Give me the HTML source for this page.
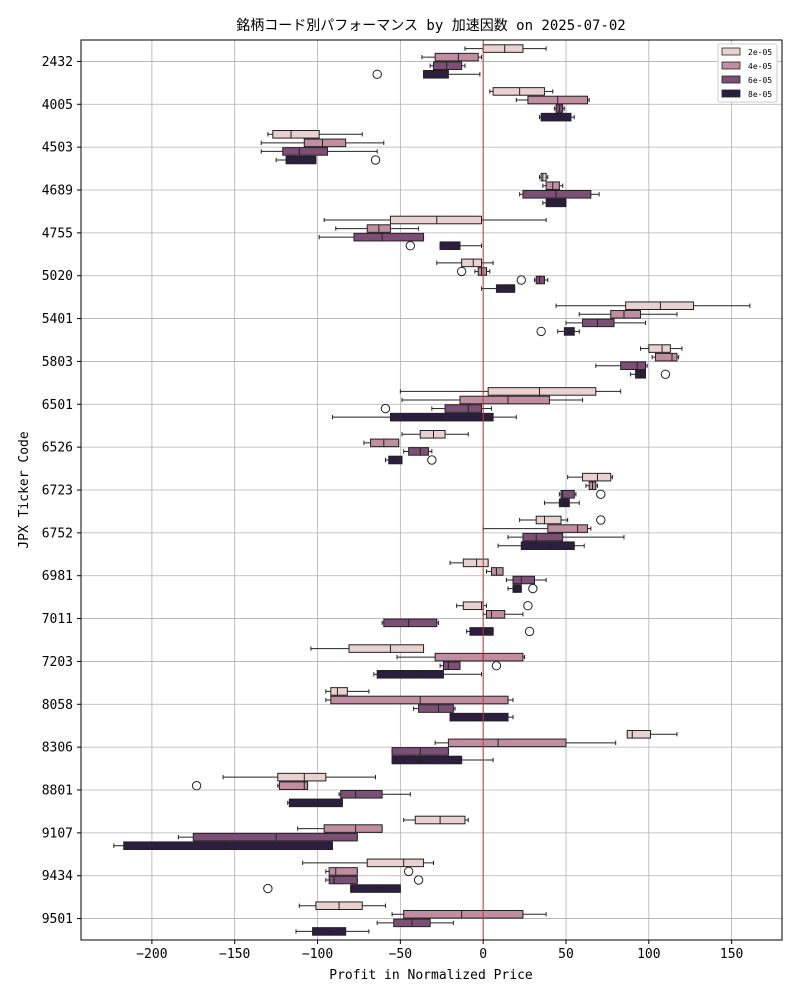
<!DOCTYPE html>
<html><head><meta charset="utf-8">
<style>
body{margin:0;background:#fff;}
svg text{font-family:"DejaVu Sans Mono","Liberation Mono","Noto Sans CJK JP",monospace;}
</style></head>
<body>
<svg id="chart" width="800" height="1000" xmlns="http://www.w3.org/2000/svg"></svg>
<script>
const categories=["2432","4005","4503","4689","4755","5020","5401","5803","6501","6526","6723","6752","6981","7011","7203","8058","8306","8801","9107","9434","9501"];
const hues=["2e-05","4e-05","6e-05","8e-05"];
const hueColors=["#e8d1cf","#c08ea0","#7d4f77","#2d1e3f"];
// each: [q1, median, q3, whiskerLow, whiskerHigh, outliers[]]
const stats2e=[[0,13,24,-11,38,[]],[6,22,37,4,42,[]],[-127,-116,-99,-130,-73,[]],[35,36,38,34,39,[]],[-56,-28,-1,-96,38,[]],[-13,-6,-1,-28,6,[]],[86,107,127,44,161,[]],[100,108,113,95,120,[]],[3,34,68,-50,83,[]],[-38,-30,-23,-49,-9,[]],[60,69,77,51,78,[]],[32,37,47,22,51,[71]],[-12,-4,3,-20,3,[]],[-12,-1,0,-16,2,[27]],[-81,-56,-36,-104,-36,[]],[-92,-88,-82,-95,-69,[]],[87,90,101,87,117,[]],[-124,-108,-95,-157,-65,[]],[-41,-26,-11,-48,-9,[]],[-70,-48,-36,-109,-30,[]],[-101,-87,-73,-111,-59,[]]];
const stats4e=[[-29,-15,-3,-37,-1,[]],[27,45,63,20,64,[]],[-108,-97,-83,-134,-60,[]],[38,42,46,36,48,[]],[-70,-63,-56,-89,-39,[]],[-3,-1,2,-5,4,[-13]],[77,85,95,58,117,[]],[104,114,117,102,118,[]],[-14,15,40,-49,60,[]],[-68,-60,-51,-72,-51,[]],[64,66,68,62,69,[]],[39,57,63,0,65,[]],[5,8,12,2,12,[]],[2,5,13,0,24,[]],[-29,0,24,-52,25,[]],[-92,-38,15,-95,18,[]],[-21,9,50,-29,80,[]],[-123,-108,-106,-124,-106,[-173]],[-96,-77,-61,-112,-61,[]],[-93,-89,-76,-95,-76,[-45]],[-48,-13,24,-55,38,[]]];
const stats6e=[[-30,-22,-13,-32,-11,[]],[44,46,48,43,49,[]],[-121,-111,-94,-134,-64,[]],[24,44,65,22,70,[]],[-78,-61,-36,-99,-36,[]],[32,34,37,31,39,[23]],[60,69,79,50,98,[]],[83,93,98,68,99,[]],[-23,-9,-1,-31,5,[-59]],[-45,-38,-33,-48,-31,[]],[47,48,55,46,56,[71]],[24,32,48,15,85,[]],[18,23,31,14,38,[]],[-60,-45,-28,-61,-27,[]],[-24,-21,-14,-26,-14,[8]],[-39,-27,-18,-42,-17,[]],[-55,-38,-21,-55,-21,[]],[-86,-77,-61,-87,-44,[]],[-175,-125,-76,-184,-76,[]],[-93,-90,-76,-95,-76,[-39]],[-54,-43,-32,-64,-18,[]]];
const stats8e=[[-36,-28,-21,-36,-2,[-64]],[35,45,53,34,55,[]],[-119,-110,-101,-125,-101,[-65]],[38,44,50,36,50,[]],[-26,-20,-14,-26,-1,[-44]],[8,13,19,-1,19,[]],[49,52,55,45,58,[35]],[92,95,98,89,98,[110]],[-56,-25,6,-91,20,[]],[-57,-54,-49,-59,-49,[-31]],[46,49,52,37,58,[]],[23,41,55,9,61,[]],[18,20,23,15,23,[30]],[-8,1,6,-10,6,[28]],[-64,-40,-24,-66,-1,[]],[-20,0,15,-20,18,[]],[-55,-38,-13,-55,6,[]],[-117,-100,-85,-118,-85,[]],[-217,-155,-91,-223,-91,[]],[-80,-62,-50,-80,-50,[-130]],[-103,-92,-83,-113,-69,[]]];
const xTicks=[-200,-150,-100,-50,0,50,100,150];
const allStats=[stats2e,stats4e,stats6e,stats8e];

const NS="http://www.w3.org/2000/svg";
const svg=document.getElementById('chart');
const L=81,R=782,T=40,B=940;
const xMin=-242.8,xMax=180.4;
const xs=v=>L+(v-xMin)/(xMax-xMin)*(R-L);
const band=(B-T)/categories.length;
const yc=i=>T+band*(i+0.5);
function el(tag,attrs,txt){const e=document.createElementNS(NS,tag);for(const k in attrs)e.setAttribute(k,attrs[k]);if(txt!==undefined)e.textContent=txt;svg.appendChild(e);return e;}

// grid
xTicks.forEach(t=>{const g=el('line',{x1:xs(t),x2:xs(t),y1:T,y2:B,stroke:'#b0b0b0','stroke-width':0.8});

});
categories.forEach((c,i)=>{const g=el('line',{x1:L,x2:R,y1:yc(i),y2:yc(i),stroke:'#b0b0b0','stroke-width':0.8});

});

// boxes
const bh=band*0.8/4;
allStats.forEach((arr,h)=>{
  arr.forEach((s,i)=>{
    const cy=yc(i)+(h-1.5)*bh;
    const [q1,med,q3,lo,hi,outs]=s;
    const g=document.createElementNS(NS,'g');svg.appendChild(g);
    
    
    const add=(tag,a)=>{const e=document.createElementNS(NS,tag);for(const k in a)e.setAttribute(k,a[k]);g.appendChild(e);return e;};
    const st={stroke:'#222','stroke-width':1};
    add('line',Object.assign({x1:xs(lo),x2:xs(q1),y1:cy,y2:cy},st));
    add('line',Object.assign({x1:xs(q3),x2:xs(hi),y1:cy,y2:cy},st));
    add('line',Object.assign({x1:xs(lo),x2:xs(lo),y1:cy-bh*0.25,y2:cy+bh*0.25},st));
    add('line',Object.assign({x1:xs(hi),x2:xs(hi),y1:cy-bh*0.25,y2:cy+bh*0.25},st));
    add('rect',Object.assign({x:xs(q1),y:cy-bh/2+0.5,width:Math.max(1,xs(q3)-xs(q1)),height:bh-1,fill:hueColors[h]},st));
    add('line',Object.assign({x1:xs(med),x2:xs(med),y1:cy-bh/2+0.5,y2:cy+bh/2-0.5},st));
    outs.forEach(o=>add('circle',{cx:xs(o),cy:cy,r:4.2,fill:'none',stroke:'#222','stroke-width':1}));
  });
});

// zero line
const z=el('line',{x1:xs(0),x2:xs(0),y1:T,y2:B,stroke:'#e8251f','stroke-width':1});



// frame
const fr=el('rect',{x:L,y:T,width:R-L,height:B-T,fill:'none',stroke:'#000','stroke-width':1});



// ticks
xTicks.forEach(t=>{
  el('line',{x1:xs(t),x2:xs(t),y1:B,y2:B+4,stroke:'#000'});
  const tx=el('text',{x:xs(t),y:B+18,'text-anchor':'middle','font-size':13},String(t).replace('-','\u2212'));
  
  
});
categories.forEach((c,i)=>{
  el('line',{x1:L-4,x2:L,y1:yc(i),y2:yc(i),stroke:'#000'});
  const tx=el('text',{x:L-8,y:yc(i)+4.5,'text-anchor':'end','font-size':13},c);
  
  
});

const ttl=el('text',{x:431,y:30,'text-anchor':'middle','font-size':14},'銘柄コード別パフォーマンス by 加速因数 on 2025-07-02');


const xt=el('text',{x:431,y:979,'text-anchor':'middle','font-size':13},'Profit in Normalized Price');


const yt=el('text',{x:28,y:490,'text-anchor':'middle','font-size':13,transform:'rotate(-90 28 490)'},'JPX Ticker Code');



// legend
const lg=el('rect',{x:718,y:44,width:59,height:58,fill:'#fff',stroke:'#ccc',rx:2});


hues.forEach((h,k)=>{
  const y=48+k*14;
  const r=el('rect',{x:722,y:y,width:18,height:7,fill:hueColors[k],stroke:'#222','stroke-width':0.8});
  
  
  const t=el('text',{x:748,y:y+7,'font-size':8},h);
  
  
});
</script>
</body></html>
